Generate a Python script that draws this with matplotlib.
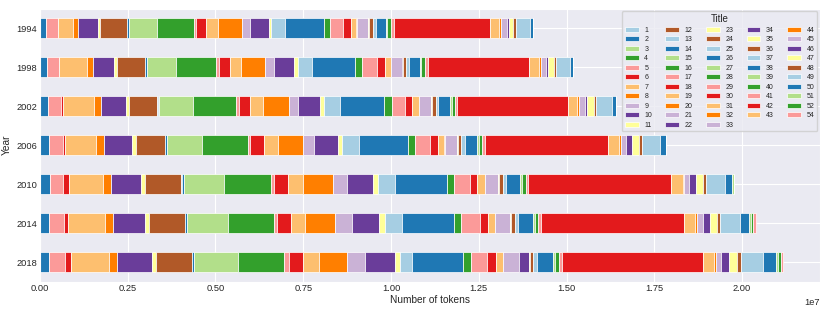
import matplotlib
matplotlib.use("Agg")
import matplotlib.pyplot as plt
from matplotlib.ticker import MultipleLocator
import numpy as np
import seaborn as sns

years = [1994, 1998, 2002, 2006, 2010, 2014, 2018]
categories = [str(i) for i in range(1, 53)] + ["54"]

# tokens per category (thousands), same order as categories
tokens_1994 = [10, 171, 0, 0, 322, 9, 439, 123, 0, 570, 77, 764, 9, 51, 781, 1055, 57, 302,
               325, 701, 214, 539, 74, 0, 399, 1097, 0, 171, 382, 222, 143, 14, 322, 9, 9, 137,
               71, 279, 43, 120, 71, 2730, 276, 46, 180, 48, 111, 74, 408, 77, 0, 0, 0]
tokens_1998 = [0, 194, 0, 0, 342, 0, 804, 165, 0, 621, 77, 781, 9, 48, 846, 1134, 94, 311,
               314, 667, 268, 567, 111, 0, 399, 1226, 0, 185, 447, 211, 168, 11, 325, 9, 17, 80,
               74, 311, 37, 125, 71, 2887, 279, 46, 148, 68, 157, 71, 399, 86, 0, 0, 0]
tokens_2002 = [0, 245, 0, 0, 371, 40, 898, 191, 0, 718, 80, 807, 9, 46, 949, 1220, 91, 328,
               359, 732, 265, 633, 108, 0, 462, 1260, 0, 208, 373, 205, 191, 11, 325, 11, 29, 103,
               68, 342, 51, 83, 80, 3135, 276, 60, 160, 68, 180, 57, 462, 108, 0, 0, 0]
tokens_2006 = [0, 251, 0, 0, 396, 71, 889, 228, 0, 781, 125, 815, 9, 54, 992, 1308, 80, 379,
               399, 713, 319, 678, 128, 0, 470, 1408, 0, 202, 405, 228, 185, 11, 348, 11, 26, 88,
               100, 356, 51, 86, 86, 3517, 302, 51, 154, 171, 188, 83, 516, 182, 0, 0, 0]
tokens_2010 = [0, 276, 0, 0, 390, 151, 972, 228, 0, 875, 114, 1023, 9, 60, 1137, 1334, 108, 385,
               425, 849, 408, 741, 134, 0, 485, 1496, 0, 205, 436, 222, 202, 11, 371, 11, 26, 100,
               86, 416, 57, 91, 68, 4067, 342, 43, 137, 191, 197, 83, 544, 217, 57, 0, 0]
tokens_2014 = [0, 257, 0, 0, 428, 125, 1032, 231, 0, 912, 123, 1012, 9, 57, 1169, 1302, 94, 390,
               408, 866, 473, 770, 157, 0, 493, 1482, 0, 211, 533, 217, 205, 14, 413, 11, 29, 100,
               94, 413, 60, 103, 74, 4084, 308, 51, 177, 191, 208, 83, 570, 251, 51, 63, 86]
tokens_2018 = [0, 257, 0, 0, 450, 185, 1069, 242, 0, 995, 123, 1006, 9, 60, 1243, 1311, 134, 408,
               467, 778, 513, 864, 148, 0, 328, 1468, 0, 214, 470, 234, 200, 14, 450, 276, 37, 100,
               100, 462, 66, 100, 80, 4016, 328, 51, 154, 219, 211, 123, 618, 379, 51, 86, 63]

sns.set_style("darkgrid")
plt.rcParams['font.family'] = ['Liberation Sans', 'DejaVu Sans']

table = np.array([tokens_1994, tokens_1998, tokens_2002, tokens_2006,
                  tokens_2010, tokens_2014, tokens_2018], dtype=float) * 1000

fig = plt.figure(figsize=(8.3, 3.11), dpi=100)
ax = fig.add_axes([0.048, 0.0945, 0.94, 0.878])

ypos = np.arange(len(years))[::-1]  # 1994 at the top
colors = plt.cm.Paired.colors
left = np.zeros(len(years))
for j, cat in enumerate(categories):
    ax.barh(ypos, table[:, j], left=left, height=0.5, color=colors[j % 12],
            edgecolor='white', linewidth=0.5, label=cat)
    left += table[:, j]

ax.set_ylim(-0.5, 6.5)
ax.set_yticks(ypos)
ax.set_yticklabels([str(y) for y in years])
ax.xaxis.set_major_locator(MultipleLocator(2.5e6))
ax.tick_params(labelsize=6.7, pad=2, length=0)
ax.xaxis.get_offset_text().set_fontsize(6.7)
ax.set_xlabel("Number of tokens", fontsize=7.3, labelpad=1)
ax.set_ylabel("Year", fontsize=7.3, labelpad=3)

leg = ax.legend(title="Title", ncol=5, loc="upper right", fontsize=5.0,
                title_fontsize=7.0, labelspacing=0.36, borderaxespad=0.4,
                columnspacing=1.9)

fig.savefig("out.png", dpi=100)
